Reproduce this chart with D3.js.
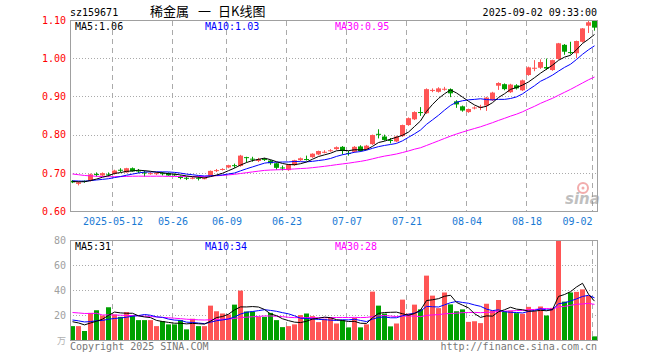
<!DOCTYPE html>
<html>
<head>
<meta charset="utf-8">
<script src="https://cdn.jsdelivr.net/npm/d3@7"></script>
<style>
  body { margin: 0; background: #fff; }
  svg text { font-family: "DejaVu Sans Mono", monospace; font-size: 10px; }
</style>
</head>
<body>
<svg id="chart" width="660" height="360"></svg>
<script>
// trading days shown on the chart
const dates = [
  '2025-04-28','2025-04-29','2025-04-30','2025-05-06','2025-05-07','2025-05-08','2025-05-09',
  '2025-05-12','2025-05-13','2025-05-14','2025-05-15','2025-05-16',
  '2025-05-19','2025-05-20','2025-05-21','2025-05-22','2025-05-23',
  '2025-05-26','2025-05-27','2025-05-28','2025-05-29','2025-05-30',
  '2025-06-03','2025-06-04','2025-06-05','2025-06-06',
  '2025-06-09','2025-06-10','2025-06-11','2025-06-12','2025-06-13',
  '2025-06-16','2025-06-17','2025-06-18','2025-06-19','2025-06-20',
  '2025-06-23','2025-06-24','2025-06-25','2025-06-26','2025-06-27',
  '2025-06-30','2025-07-01','2025-07-02','2025-07-03','2025-07-04',
  '2025-07-07','2025-07-08','2025-07-09','2025-07-10','2025-07-11',
  '2025-07-14','2025-07-15','2025-07-16','2025-07-17','2025-07-18',
  '2025-07-21','2025-07-22','2025-07-23','2025-07-24','2025-07-25',
  '2025-07-28','2025-07-29','2025-07-30','2025-07-31','2025-08-01',
  '2025-08-04','2025-08-05','2025-08-06','2025-08-07','2025-08-08',
  '2025-08-11','2025-08-12','2025-08-13','2025-08-14','2025-08-15',
  '2025-08-18','2025-08-19','2025-08-20','2025-08-21','2025-08-22',
  '2025-08-25','2025-08-26','2025-08-27','2025-08-28','2025-08-29',
  '2025-09-01','2025-09-02'
];

const open = [
  0.679,0.671,0.679,0.679,0.697,0.693,0.696,
  0.697,0.708,0.701,0.712,0.706,
  0.701,0.698,0.698,0.699,0.699,
  0.696,0.689,0.687,0.686,0.687,
  0.685,0.693,0.706,0.709,
  0.714,0.720,0.718,0.741,0.737,
  0.731,0.736,0.732,0.725,0.714,
  0.707,0.720,0.733,0.736,0.741,
  0.748,0.754,0.758,0.762,0.768,
  0.752,0.755,0.769,0.762,0.775,
  0.802,0.795,0.786,0.782,0.796,
  0.825,0.840,0.859,0.856,0.916,
  0.912,0.919,0.919,0.887,0.874,
  0.859,0.869,0.870,0.876,0.890,
  0.928,0.932,0.911,0.929,0.916,
  0.956,0.973,0.975,0.977,0.969,
  0.998,1.035,1.016,1.013,1.043,
  1.085,1.099
];
const high = [
  0.681,0.677,0.680,0.698,0.701,0.701,0.701,
  0.708,0.712,0.713,0.714,0.710,
  0.706,0.702,0.701,0.702,0.701,
  0.698,0.693,0.690,0.690,0.691,
  0.689,0.706,0.710,0.712,
  0.721,0.724,0.747,0.742,0.742,
  0.739,0.739,0.734,0.727,0.719,
  0.723,0.734,0.740,0.745,0.751,
  0.758,0.759,0.762,0.769,0.770,
  0.757,0.770,0.772,0.773,0.800,
  0.814,0.800,0.791,0.797,0.826,
  0.845,0.861,0.872,0.921,0.921,
  0.924,0.925,0.921,0.890,0.876,
  0.868,0.874,0.878,0.899,0.912,
  0.937,0.934,0.933,0.932,0.944,
  0.978,0.995,0.997,0.999,0.996,
  1.040,1.037,1.043,1.046,1.079,
  1.100,1.100
];
const low = [
  0.673,0.667,0.674,0.677,0.690,0.691,0.690,
  0.695,0.702,0.700,0.703,0.699,
  0.690,0.695,0.694,0.693,0.692,
  0.692,0.683,0.681,0.683,0.680,
  0.683,0.692,0.702,0.706,
  0.712,0.713,0.716,0.727,0.729,
  0.728,0.731,0.721,0.708,0.706,
  0.705,0.718,0.731,0.732,0.739,
  0.746,0.751,0.755,0.760,0.748,
  0.745,0.753,0.755,0.760,0.773,
  0.790,0.784,0.777,0.780,0.794,
  0.823,0.838,0.849,0.854,0.911,
  0.910,0.915,0.898,0.870,0.860,
  0.857,0.866,0.864,0.862,0.888,
  0.917,0.916,0.909,0.918,0.914,
  0.954,0.966,0.972,0.969,0.967,
  0.996,1.009,1.010,1.000,1.041,
  1.066,1.072
];
const close = [
  0.675,0.675,0.676,0.696,0.696,0.699,0.695,
  0.706,0.707,0.712,0.704,0.705,
  0.700,0.699,0.699,0.697,0.693,
  0.695,0.688,0.686,0.687,0.686,
  0.686,0.705,0.707,0.710,
  0.720,0.719,0.745,0.740,0.736,
  0.736,0.735,0.725,0.713,0.713,
  0.722,0.733,0.738,0.735,0.750,
  0.757,0.755,0.759,0.767,0.757,
  0.751,0.768,0.757,0.771,0.799,
  0.801,0.786,0.784,0.795,0.825,
  0.843,0.859,0.857,0.919,0.917,
  0.921,0.920,0.908,0.879,0.863,
  0.867,0.871,0.873,0.897,0.910,
  0.935,0.919,0.931,0.921,0.942,
  0.976,0.975,0.990,0.973,0.995,
  1.039,1.017,1.014,1.045,1.078,
  1.094,1.080
];
// volume, 万
const volume = [
  11.1,11.1,7.2,21.7,23.8,19.6,26.2,
  20.4,18.5,22.3,19.6,15.9,
  15.9,15.9,11.1,15.1,12.5,
  12.5,15.9,8.5,17.0,11.1,
  11.1,27.5,23.0,21.2,
  20.4,28.3,39.5,22.8,22.8,
  18.5,18.5,21.7,15.9,10.3,
  11.1,12.5,19.9,21.2,19.1,
  14.3,17.0,17.7,13.2,15.9,
  10.1,17.7,10.1,12.5,38.7,
  27.5,21.2,10.9,13.2,32.3,
  21.2,28.3,24.5,51.5,35.5,
  25.5,38.0,28.5,23.0,24.5,
  14.5,15.0,13.5,29.0,23.5,
  32.0,23.0,23.5,21.5,21.0,
  26.5,23.0,26.8,19.6,25.7,
  79.2,30.7,38.0,38.5,40.5,
  35.5,2.9
];
// closes and volumes of the 29 sessions before the window (feed the moving averages)
const priorClose = [
  0.730,0.735,0.730,0.725,0.720,
  0.710,0.705,0.700,0.695,0.690,0.700,0.705,0.700,0.695,0.700,0.705,0.700,0.695,0.690,0.685,
  0.680,0.682,0.679,0.680,0.683,0.678,0.676,0.680,0.677
];
const priorVolume = [
  22,20,21,20,60,
  25,22,24,28,20,26,22,24,23,25,21,24,26,22,25,
  18,16,19,17,17,16,15,14,17
];

const priceTicks = [0.60, 0.70, 0.80, 0.90, 1.00, 1.10];
const volumeTicks = [20, 40, 60, 80];
const dateTicks = ['2025-05-12','2025-05-26','2025-06-09','2025-06-23','2025-07-07',
                   '2025-07-21','2025-08-04','2025-08-18','2025-09-02'];

const RED = '#ff5555', GREEN = '#00a000', GRID = '#aaaaaa', BORDER = '#a0a0a0';
const MA_COLORS = { 5: '#000000', 10: '#0000ff', 30: '#ff00ff' };

function movingAverage(values, prior, n) {
    const all = prior.concat(values);
    return values.map((v, i) => {
        const end = prior.length + i + 1;
        return d3.mean(all.slice(end - n, end));
    });
}

const svg = d3.select('#chart');
const left = 70, right = 598;

const x = d3.scaleLinear().domain([0, dates.length]).range([left, right]);
const xTick = d3.scaleLinear().domain([0, dates.length]).range([left + 0.5, right + 0.5]);
const y = d3.scaleLinear().domain([0.60, 1.10]).range([211, 20]);
const yv = d3.scaleLinear().domain([0, 80]).range([340, 240]);

// ---------- header ----------
svg.append('text').attr('x', left).attr('y', 16).text('sz159671');
[['稀金属', 150], ['一', 198], ['日K线图', 218]].forEach(([t, tx]) => {
    svg.append('text').attr('x', tx).attr('y', 16)
        .style('font-family', '"Noto Sans CJK SC", sans-serif').style('font-size', '13px')
        .text(t);
});
svg.append('text').attr('x', 597).attr('y', 16).attr('text-anchor', 'end')
    .text('2025-09-02 09:33:00');

const tickIdx = dateTicks.map(d => dates.indexOf(d));

function drawGrid(g, yScale, hValues, top, bottom) {
    g.selectAll('.hgrid').data(hValues).enter().append('line')
        .attr('x1', left).attr('x2', right)
        .attr('y1', d => Math.round(yScale(d)) + 0.5).attr('y2', d => Math.round(yScale(d)) + 0.5)
        .attr('stroke', GRID).attr('stroke-dasharray', '1,2');
    g.selectAll('.vgrid').data(tickIdx).enter().append('line')
        .attr('x1', d => xTick(d)).attr('x2', d => xTick(d))
        .attr('y1', top).attr('y2', bottom)
        .attr('stroke', GRID).attr('stroke-dasharray', '5,4');
}

// ---------- price panel ----------
const pg = svg.append('g');
drawGrid(pg, y, [0.70, 0.80, 0.90, 1.00], 21, 211);

// sina watermark
const wm = pg.append('g').attr('opacity', 0.55);
wm.append('circle').attr('cx', 583).attr('cy', 188).attr('r', 5)
    .attr('fill', 'none').attr('stroke', '#e86a6a').attr('stroke-width', 2);
wm.append('circle').attr('cx', 583).attr('cy', 188).attr('r', 1.5).attr('fill', '#e86a6a');
wm.append('text').attr('x', 565).attr('y', 204)
    .style('font-family', '"DejaVu Sans", sans-serif').style('font-size', '15px')
    .style('font-weight', 'bold').style('font-style', 'italic')
    .attr('fill', '#8c8c8c').text('sina');

const candles = dates.map((d, i) => ({
    i, open: open[i], high: high[i], low: low[i], close: close[i], vol: volume[i],
    up: close[i] >= open[i]
}));

const cg = pg.append('g');
cg.selectAll('.wick').data(candles).enter().append('line')
    .attr('x1', d => x(d.i) + 2.5).attr('x2', d => x(d.i) + 2.5)
    .attr('y1', d => y(d.high)).attr('y2', d => y(d.low))
    .attr('stroke', d => d.up ? RED : GREEN);
cg.selectAll('.body').data(candles).enter().append('rect')
    .attr('x', d => x(d.i)).attr('width', 5)
    .attr('y', d => y(Math.max(d.open, d.close)))
    .attr('height', d => Math.max(1, Math.abs(y(d.open) - y(d.close))))
    .attr('fill', d => d.up ? RED : GREEN);

const priceLine = d3.line().x((d, i) => x(i) + 2.5).y(d => y(d));
[30, 10, 5].forEach(n => {
    pg.append('path').datum(movingAverage(close, priorClose, n))
        .attr('d', priceLine).attr('fill', 'none')
        .attr('stroke', MA_COLORS[n]).attr('stroke-width', 1);
});

pg.append('rect').attr('x', left + 0.5).attr('y', 20.5)
    .attr('width', right - left - 1).attr('height', 191)
    .attr('fill', 'none').attr('stroke', BORDER);

const priceAxis = pg.append('g').attr('transform', `translate(${left},0)`)
    .call(d3.axisLeft(y).tickValues(priceTicks).tickSize(0).tickPadding(4)
        .tickFormat(d3.format('.2f')));
priceAxis.select('.domain').remove();
priceAxis.selectAll('text').attr('fill', '#ff0000')
    .style('font-family', '"DejaVu Sans Mono", monospace').style('font-size', '10px');

const xAxis = pg.append('g').attr('transform', 'translate(0,211)')
    .call(d3.axisBottom(xTick).tickValues(tickIdx).tickSize(0).tickPadding(7)
        .tickFormat((d, k) => k === 0 ? dates[d] : dates[d].slice(5)));
xAxis.select('.domain').remove();
xAxis.selectAll('text').attr('fill', '#1a7ad4')
    .style('font-family', '"DejaVu Sans Mono", monospace').style('font-size', '10px')
    .each(function (d) {
        const w = this.getComputedTextLength();
        const cx = xTick(d);
        if (cx + w / 2 > right - 6) {
            d3.select(this).attr('x', right - 6 - w / 2 - cx);
        }
    });

const ma5 = movingAverage(close, priorClose, 5), ma10 = movingAverage(close, priorClose, 10),
      ma30 = movingAverage(close, priorClose, 30);
const last = dates.length - 1;
const legendX = [75, 205, 335];
[['MA5', ma5, 5], ['MA10', ma10, 10], ['MA30', ma30, 30]].forEach(([name, s, n], k) => {
    pg.append('text').attr('x', legendX[k]).attr('y', 30).attr('fill', MA_COLORS[n])
        .text(`${name}:${s[last].toFixed(2)}`);
});

// ---------- volume panel ----------
const vg = svg.append('g');
drawGrid(vg, yv, [20, 40, 60], 241, 340);

vg.selectAll('.vbar').data(candles).enter().append('rect')
    .attr('x', d => x(d.i)).attr('width', 5)
    .attr('y', d => yv(d.vol)).attr('height', d => yv(0) - yv(d.vol))
    .attr('fill', d => d.up ? RED : GREEN);

const volLine = d3.line().x((d, i) => x(i) + 2.5).y(d => yv(d));
const vma = {};
[30, 10, 5].forEach(n => {
    vma[n] = movingAverage(volume, priorVolume, n);
    vg.append('path').datum(vma[n]).attr('d', volLine).attr('fill', 'none')
        .attr('stroke', MA_COLORS[n]).attr('stroke-width', 1);
});

vg.append('rect').attr('x', left + 0.5).attr('y', 240.5)
    .attr('width', right - left - 1).attr('height', 100)
    .attr('fill', 'none').attr('stroke', BORDER);

const volAxis = vg.append('g').attr('transform', `translate(${left},0)`)
    .call(d3.axisLeft(yv).tickValues(volumeTicks).tickSize(0).tickPadding(4));
volAxis.select('.domain').remove();
volAxis.selectAll('text').attr('fill', '#a0a0a0')
    .style('font-family', '"DejaVu Sans Mono", monospace').style('font-size', '10px');
vg.append('text').attr('x', 66).attr('y', 344).attr('text-anchor', 'end')
    .attr('fill', '#b0b0b0').style('font-family', '"Noto Sans CJK SC", sans-serif')
    .style('font-size', '9px').text('万');

[['MA5', 5], ['MA10', 10], ['MA30', 30]].forEach(([name, n], k) => {
    vg.append('text').attr('x', legendX[k]).attr('y', 250).attr('fill', MA_COLORS[n])
        .text(`${name}:${Math.round(vma[n][last])}`);
});

// ---------- footer ----------
svg.append('text').attr('x', 70).attr('y', 350).attr('fill', '#777').text('Copyright 2025 SINA.COM');
svg.append('text').attr('x', 597).attr('y', 350).attr('text-anchor', 'end')
    .attr('fill', '#777').text('http://finance.sina.com.cn');
</script>
</body>
</html>
